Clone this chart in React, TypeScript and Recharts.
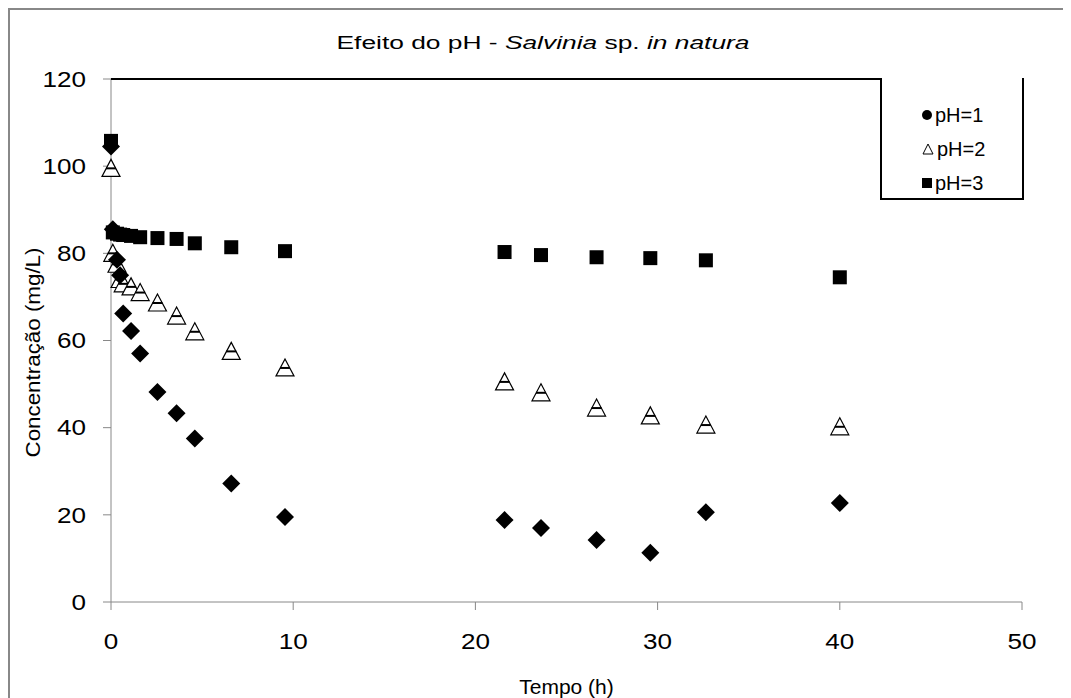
import React from "react";
import {
  ScatterChart,
  Scatter,
  XAxis,
  YAxis,
  Label,
} from "recharts";

// tempo (h) das coletas
const tempos = [0, 0.1, 0.33, 0.5, 0.67, 1.1, 1.6, 2.55, 3.6, 4.6, 6.6, 9.55, 21.6, 23.6, 26.65, 29.6, 32.65, 40];

// concentração (mg/L)
const ph1 = [104.5, 85.5, 78.5, 75, 66.2, 62.2, 57, 48.2, 43.3, 37.5, 27.2, 19.5, 18.8, 17, 14.2, 11.3, 20.6, 22.7];
const ph2 = [99.5, 80, 77.5, 74, 73, 72.3, 71, 68.6, 65.6, 62, 57.5, 53.7, 50.5, 48, 44.5, 42.7, 40.6, 40.2];
const ph3 = [105.8, 84.8, 84.5, 84.3, 84.2, 84, 83.7, 83.5, 83.3, 82.3, 81.4, 80.5, 80.3, 79.6, 79.1, 78.9, 78.4, 74.5];

const xTicks = [0, 10, 20, 30, 40, 50];
const yTicks = [0, 20, 40, 60, 80, 100, 120];

const legendItems = ["pH=1", "pH=2", "pH=3"];

const toPoints = (vals: number[]) => tempos.map((t, i) => ({ t, c: vals[i] }));

const FONT = "'Liberation Sans', Arial, sans-serif";
const W = 1057;
const H = 700;

const Diamond = (props: any) => {
  const { cx, cy } = props;
  const r = 9;
  return (
    <polygon
      points={`${cx},${cy - r} ${cx + r},${cy} ${cx},${cy + r} ${cx - r},${cy}`}
      fill="#000"
    />
  );
};

const Square = (props: any) => {
  const { cx, cy } = props;
  const s = 14;
  return <rect x={cx - s / 2} y={cy - s / 2} width={s} height={s} fill="#000" />;
};

const Triangle = (props: any) => {
  const { cx, cy } = props;
  return (
    <g>
      <polygon
        points={`${cx},${cy - 9} ${cx + 9},${cy + 8} ${cx - 9},${cy + 8}`}
        fill="#fff"
        stroke="#000"
        strokeWidth={1.2}
      />
      <line x1={cx - 5} x2={cx + 5} y1={cy} y2={cy} stroke="#000" strokeWidth={2} />
    </g>
  );
};

// dígitos dos eixos são mais largos no original
const DIGIT_W = 14.5;

const XTick = (props: any) => {
  const { x, y, payload } = props;
  const s = String(payload.value);
  return (
    <text x={x} y={y} dy="0.71em" textAnchor="middle" fontSize={22} fontFamily={FONT} fill="#000"
      textLength={s.length * DIGIT_W} lengthAdjust="spacingAndGlyphs">
      {s}
    </text>
  );
};

const YTick = (props: any) => {
  const { x, y, payload } = props;
  const s = String(payload.value);
  return (
    <text x={x} y={y} dy="0.355em" textAnchor="end" fontSize={22} fontFamily={FONT} fill="#000"
      textLength={s.length * DIGIT_W} lengthAdjust="spacingAndGlyphs">
      {s}
    </text>
  );
};

const legendMarker = (i: number) => {
  if (i === 0) return <span style={{ display: "inline-block", width: 10, height: 10, borderRadius: 5, background: "#000", marginRight: 3 }} />;
  if (i === 1)
    return (
      <svg width={12} height={12} style={{ marginRight: 3 }}>
        <polygon points="6,1 11,11 1,11" fill="#fff" stroke="#000" strokeWidth={1} />
      </svg>
    );
  return <span style={{ display: "inline-block", width: 10, height: 10, background: "#000", marginRight: 3 }} />;
};

export default function App() {
  return (
    <div style={{ position: "relative", width: W, height: H, fontFamily: FONT }}>
      {/* moldura externa */}
      <div
        style={{
          position: "absolute",
          left: 0,
          top: 0,
          width: W,
          height: H,
          borderLeft: "2px solid #888",
          borderTop: "2px solid #888",
          borderRight: "2px solid #888",
          boxSizing: "border-box",
        }}
      />
      <ScatterChart
        width={W}
        height={H}
        margin={{ top: 71, right: 43, bottom: 46, left: 0 }}
        style={{ position: "absolute", left: 0, top: 0 }}
      >
        <XAxis
          type="number"
          dataKey="t"
          domain={[0, 50]}
          ticks={xTicks}
          height={60}
          stroke="#888"
          tickSize={8}
          tickMargin={23}
          tick={<XTick />}
        >
          <Label
            content={({ viewBox }: any) => (
              <text
                x={viewBox.x + viewBox.width / 2}
                y={viewBox.y + 92}
                textAnchor="middle"
                fontSize={21}
                fontFamily={FONT}
                fill="#000"
              >
                Tempo (h)
              </text>
            )}
          />
        </XAxis>
        <YAxis
          type="number"
          dataKey="c"
          domain={[0, 120]}
          ticks={yTicks}
          width={103}
          stroke="#888"
          tickSize={8}
          tickMargin={17}
          tick={<YTick />}
        >
          <Label
            content={({ viewBox }: any) => {
              const x = viewBox.x + 24;
              const y = viewBox.y + viewBox.height / 2 + 12;
              return (
                <text
                  x={x}
                  y={y}
                  transform={`rotate(-90 ${x} ${y})`}
                  textAnchor="middle"
                  dominantBaseline="central"
                  fontSize={21}
                  fontFamily={FONT}
                  fill="#000"
                  textLength={210}
                  lengthAdjust="spacingAndGlyphs"
                >
                  Concentração (mg/L)
                </text>
              );
            }}
          />
        </YAxis>
        <Scatter name="pH=3" data={toPoints(ph3)} shape={Square} isAnimationActive={false} />
        <Scatter name="pH=2" data={toPoints(ph2)} shape={Triangle} isAnimationActive={false} />
        <Scatter name="pH=1" data={toPoints(ph1)} shape={Diamond} isAnimationActive={false} />
      </ScatterChart>

      {/* título */}
      <svg width={W} height={60} style={{ position: "absolute", left: 0, top: 0, pointerEvents: "none" }}>
        <text
          x={535}
          y={41}
          textAnchor="middle"
          fontSize={18}
          fontFamily={FONT}
          fill="#000"
          textLength={413}
          lengthAdjust="spacingAndGlyphs"
        >
          Efeito do pH - <tspan fontStyle="italic">Salvinia</tspan> sp. <tspan fontStyle="italic">in natura</tspan>
        </text>
      </svg>

      {/* linha superior da área do gráfico */}
      <div style={{ position: "absolute", left: 103, top: 70, width: 913, height: 2, background: "#000" }} />

      {/* legenda */}
      <div
        style={{
          position: "absolute",
          left: 872,
          top: 70,
          width: 144,
          height: 122,
          border: "2px solid #000",
          borderTop: "none",
          boxSizing: "border-box",
          background: "#fff",
          paddingTop: 20,
          paddingLeft: 40,
        }}
      >
        {legendItems.map((name, i) => (
          <div key={name} style={{ display: "flex", alignItems: "center", height: 34, fontSize: 20 }}>
            {legendMarker(i)}
            <span>{name}</span>
          </div>
        ))}
      </div>
    </div>
  );
}
